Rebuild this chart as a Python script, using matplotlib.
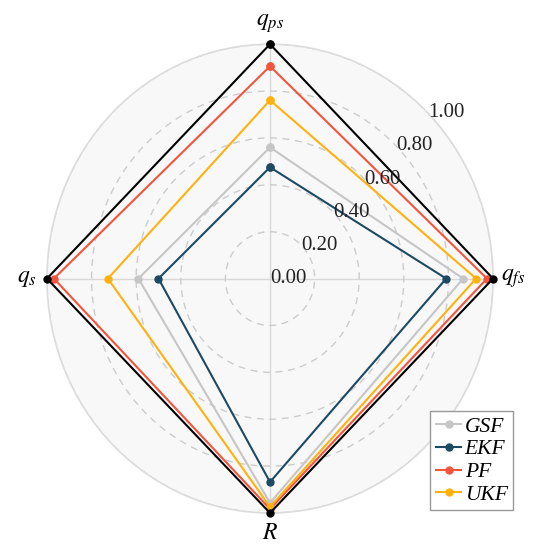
import numpy as np
import matplotlib
matplotlib.use("Agg")
import matplotlib.pyplot as plt

categories = [r"$q_{ps}$", r"$q_{fs}$", r"$R$", r"$q_s$"]
series_names = ["GSF", "EKF", "PF", "UKF"]
ref_values = [1.0, 1.0, 1.0, 1.0]
gsf = [0.56, 0.866, 0.957, 0.59]
ekf = [0.475, 0.79, 0.868, 0.50]
pf = [0.906, 0.973, 0.983, 0.969]
ukf = [0.761, 0.924, 0.974, 0.727]
colors = ["#c6c6c6", "#1d4a63", "#f2553d", "#ffb20f"]
rticks = [0.0, 0.2, 0.4, 0.6, 0.8, 1.0]
rtick_labels = ["0.00", "0.20", "0.40", "0.60", "0.80", "1.00"]

plt.rcParams["mathtext.fontset"] = "stix"
plt.rcParams["font.family"] = ["Liberation Serif", "DejaVu Serif"]

fig = plt.figure(figsize=(5.48, 5.47), dpi=100)
ax = fig.add_axes([0.0857, 0.0622, 0.814, 0.857], projection="polar")
ax.set_aspect("auto")
ax.set_theta_offset(np.pi / 2)
ax.set_theta_direction(-1)
ax.set_facecolor("#f8f8f8")

n = len(categories)
angles = np.linspace(0, 2 * np.pi, n, endpoint=False)
ang_closed = np.concatenate([angles, angles[:1]])

def closed(v):
    return np.concatenate([v, v[:1]])

ax.plot(ang_closed, closed(ref_values), color="black", lw=1.5, marker="o", ms=5, zorder=6, clip_on=False)
for name, vals, c in zip(series_names, [gsf, ekf, pf, ukf], colors):
    ax.plot(ang_closed, closed(vals), color=c, lw=1.5, marker="o", ms=5, label=name, zorder=5, clip_on=False)

ax.set_ylim(0, 1.0)
ax.set_yticks(rticks)
ax.set_yticklabels([])
ax.yaxis.grid(True, color="#cccccc", ls=(0, (5, 4)), lw=1.0)
ax.xaxis.grid(True, color="#d8d8d8", ls="-", lw=1.0)
ax.spines["polar"].set_color("#dcdcdc")
ax.spines["polar"].set_linewidth(1.2)

for r, lab in zip(rticks, rtick_labels):
    ax.text(np.pi / 4, r, lab, ha="left", va="center", fontsize=15, color="#222222", zorder=7)

ax.set_xticks(angles)
ax.set_xticklabels(categories, fontsize=17)
ax.tick_params(axis="x", pad=4)

leg = ax.legend(loc="lower right", bbox_to_anchor=(1.045, 0.006),
                prop={"family": "Liberation Serif", "style": "italic", "size": 15.5},
                handlelength=1.2, handletextpad=0.15, borderpad=0.25, labelspacing=0.12,
                borderaxespad=0, fancybox=False, framealpha=1, edgecolor="#999999")
leg.get_frame().set_linewidth(1.0)
leg.set_zorder(10)

fig.savefig("out.png", dpi=100)
